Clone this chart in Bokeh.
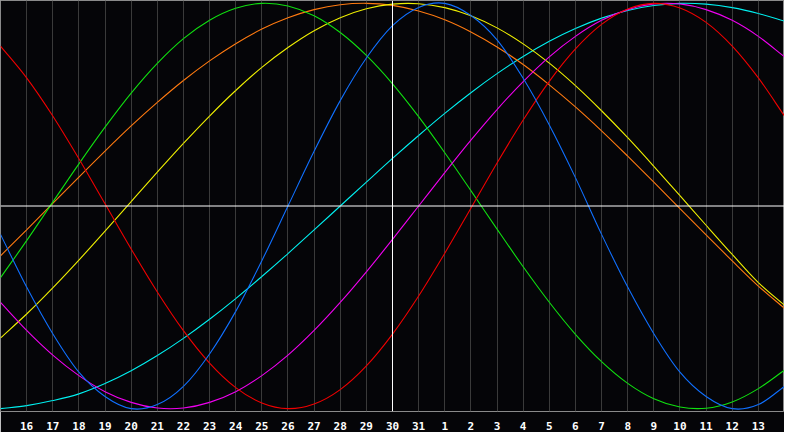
from bokeh.plotting import figure
from bokeh.models import Range1d, FixedTicker, Span, LinearAxis
from bokeh.embed import file_html
from bokeh.resources import INLINE

# day positions (0 = left edge, 15 = today "30", 30 = right edge)
day_index = list(range(31))
tick_positions = list(range(1, 30))
tick_labels = ["16", "17", "18", "19", "20", "21", "22", "23", "24", "25", "26",
               "27", "28", "29", "30", "31", "1", "2", "3", "4", "5", "6", "7",
               "8", "9", "10", "11", "12", "13"]
today_pos = 15

# cycle values (-1 .. 1) read at each day position
blue = [-0.14, -0.40, -0.63, -0.82, -0.94, -1.00, -0.98, -0.89, -0.73, -0.52, -0.27,
        0.00, 0.27, 0.52, 0.73, 0.89, 0.98, 1.00, 0.94, 0.82, 0.63, 0.40, 0.14,
        -0.14, -0.40, -0.63, -0.82, -0.94, -1.00, -0.98, -0.89]
red = [0.789, 0.632, 0.444, 0.233, 0.011, -0.212, -0.424, -0.615, -0.775, -0.896, -0.972,
       -1.000, -0.977, -0.906, -0.789, -0.632, -0.444, -0.233, -0.011, 0.212, 0.424,
       0.615, 0.775, 0.896, 0.972, 1.000, 0.977, 0.906, 0.789, 0.632, 0.444]
green = [-0.354, -0.171, 0.019, 0.208, 0.389, 0.557, 0.704, 0.826, 0.917, 0.976, 1.000,
         0.987, 0.939, 0.856, 0.743, 0.603, 0.441, 0.263, 0.076, -0.114, -0.300,
         -0.475, -0.633, -0.768, -0.875, -0.951, -0.992, -0.998, -0.967, -0.901, -0.810]
yellow = [-0.651, -0.533, -0.404, -0.267, -0.124, 0.022, 0.167, 0.309, 0.444, 0.570, 0.684,
          0.782, 0.865, 0.929, 0.973, 0.996, 0.998, 0.979, 0.939, 0.879, 0.800, 0.705,
          0.594, 0.470, 0.337, 0.196, 0.051, -0.095, -0.239, -0.378, -0.490]
orange = [-0.246, -0.118, 0.013, 0.143, 0.271, 0.395, 0.511, 0.619, 0.716, 0.801, 0.873,
          0.929, 0.969, 0.993, 1.000, 0.990, 0.962, 0.919, 0.859, 0.785, 0.698, 0.598,
          0.489, 0.371, 0.246, 0.118, -0.013, -0.143, -0.271, -0.395, -0.505]
magenta = [-0.476, -0.614, -0.736, -0.837, -0.916, -0.969, -0.997, -0.997, -0.969, -0.916,
           -0.837, -0.736, -0.614, -0.476, -0.325, -0.165, 0.000, 0.165, 0.325, 0.476,
           0.614, 0.736, 0.837, 0.916, 0.969, 0.997, 0.997, 0.969, 0.916, 0.837, 0.736]
cyan = [-1.000, -0.985, -0.960, -0.927, -0.876, -0.813, -0.738, -0.653, -0.559, -0.457,
        -0.348, -0.235, -0.118, 0.000, 0.118, 0.235, 0.348, 0.457, 0.559, 0.653, 0.738,
        0.813, 0.876, 0.927, 0.965, 0.989, 1.000, 0.996, 0.979, 0.950, 0.912]

series = [
    (cyan, "#00f0f0"),
    (orange, "#ff7a10"),
    (yellow, "#f0f000"),
    (green, "#10e010"),
    (magenta, "#f000f0"),
    (red, "#f00000"),
    (blue, "#1070ff"),
]

BG = "#050508"

p = figure(width=784, height=432, x_range=Range1d(0, 30), y_range=Range1d(-1.014, 1.014),
           output_backend="svg", toolbar_location=None, x_axis_location=None,
           y_axis_location=None, min_border_left=0, min_border_right=0,
           min_border_top=0, min_border_bottom=21)
p.background_fill_color = BG
p.border_fill_color = BG
p.outline_line_color = "#8a8a8a"
p.outline_line_width = 1

xaxis = LinearAxis(ticker=FixedTicker(ticks=tick_positions))
xaxis.major_label_overrides = {pos: lab for pos, lab in zip(tick_positions, tick_labels)}
xaxis.axis_line_color = None
xaxis.major_tick_line_color = None
xaxis.minor_tick_line_color = None
xaxis.major_label_standoff = 4
xaxis.major_label_text_color = "white"
xaxis.major_label_text_font = "DejaVu Sans Mono"
xaxis.major_label_text_font_style = "bold"
xaxis.major_label_text_font_size = "11px"
p.add_layout(xaxis, "below")

p.xgrid.ticker = FixedTicker(ticks=tick_positions)
p.xgrid.grid_line_color = "#3a3a3a"
p.xgrid.grid_line_width = 1
p.ygrid.grid_line_color = None

p.add_layout(Span(location=today_pos, dimension="height", line_color="white", line_width=1))
p.add_layout(Span(location=0, dimension="width", line_color="white", line_width=1))


def smooth_segments(xs, ys):
    """Catmull-Rom style Bezier segments through the read data points (rendering only)."""
    n = len(xs)
    x0, y0, x1, y1, cx0, cy0, cx1, cy1 = [], [], [], [], [], [], [], []
    for i in range(n - 1):
        xm = xs[i - 1] if i > 0 else 2 * xs[i] - xs[i + 1]
        ym = ys[i - 1] if i > 0 else 2 * ys[i] - ys[i + 1]
        xp = xs[i + 2] if i + 2 < n else 2 * xs[i + 1] - xs[i]
        yp = ys[i + 2] if i + 2 < n else 2 * ys[i + 1] - ys[i]
        x0.append(xs[i]); y0.append(ys[i])
        x1.append(xs[i + 1]); y1.append(ys[i + 1])
        cx0.append(xs[i] + (xs[i + 1] - xm) / 6.0)
        cy0.append(ys[i] + (ys[i + 1] - ym) / 6.0)
        cx1.append(xs[i + 1] - (xp - xs[i]) / 6.0)
        cy1.append(ys[i + 1] - (yp - ys[i]) / 6.0)
    return dict(x0=x0, y0=y0, x1=x1, y1=y1, cx0=cx0, cy0=cy0, cx1=cx1, cy1=cy1)


for vals, col in series:
    seg = smooth_segments(day_index, vals)
    p.bezier(x0="x0", y0="y0", x1="x1", y1="y1", cx0="cx0", cy0="cy0",
             cx1="cx1", cy1="cy1", source=seg, line_color=col, line_width=1.1)

open("out.html", "w").write(file_html(p, INLINE))
